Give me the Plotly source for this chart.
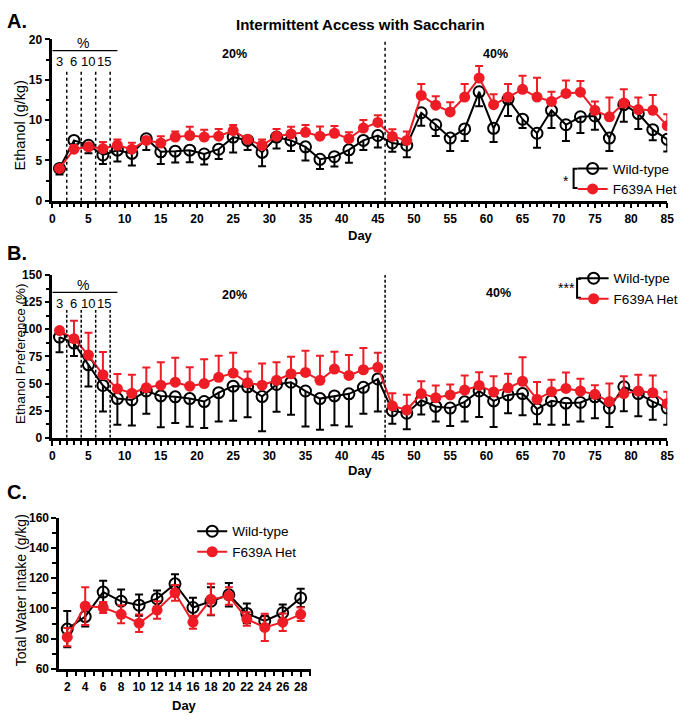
import plotly.graph_objects as go

# ---------------- data ----------------
days = [1, 3, 5, 7, 9, 11, 13, 15, 17, 19, 21, 23, 25, 27, 29, 31, 33, 35, 37, 39, 41, 43,
        45, 47, 49, 51, 53, 55, 57, 59, 61, 63, 65, 67, 69, 71, 73, 75, 77, 79, 81, 83, 85]

wt_eth = [4.0, 7.47, 6.87, 5.66, 6.26, 5.86, 7.68, 6.06, 6.14, 6.26, 5.78, 6.38, 7.88, 7.47,
          5.98, 7.88, 7.47, 6.67, 5.13, 5.45, 6.3, 7.47, 8.08, 7.15, 6.87, 10.9, 9.41, 7.76,
          8.89, 13.5, 8.97, 12.6, 10.1, 8.36, 11.2, 9.41, 10.4, 10.5, 7.76, 11.9, 10.8, 8.8, 7.6]
wt_eth_err = [0.75, 0.5, 1.0, 1.1, 1.4, 1.5, 1.4, 1.5, 1.4, 1.5, 1.3, 1.2, 1.9, 1.2, 1.7, 1.4,
              1.3, 1.7, 1.2, 1.2, 1.6, 1.2, 1.5, 1.1, 1.5, 1.6, 1.4, 1.6, 1.5, 1.8, 1.7, 2.1,
              1.1, 1.8, 2.2, 2.0, 2.0, 1.7, 1.6, 2.1, 1.9, 1.3, 1.5]
het_eth = [4.0, 6.38, 6.67, 6.46, 6.87, 6.38, 7.47, 7.15, 7.88, 8.08, 7.88, 8.0, 8.69, 7.6,
           6.87, 8.0, 8.28, 8.48, 8.0, 8.36, 7.68, 9.0, 9.7, 7.96, 7.47, 13.05, 11.84, 11.0,
           12.85, 15.2, 11.9, 12.85, 13.8, 12.85, 12.3, 13.3, 13.45, 11.2, 10.4, 12.1, 11.3,
           11.2, 9.3]
het_eth_err = [0.3, 0.5, 0.4, 0.8, 0.7, 0.8, 0.4, 0.85, 0.7, 1.1, 0.9, 0.9, 0.7, 0.3, 0.7,
               0.9, 0.9, 0.9, 1.2, 0.9, 0.8, 1.0, 0.9, 0.9, 1.1, 1.4, 1.1, 1.2, 1.6, 1.5, 1.3,
               1.6, 1.7, 2.4, 1.2, 1.6, 1.4, 1.1, 2.4, 1.7, 1.5, 1.9, 1.4]

wt_pref = [92.8, 87.3, 67.2, 48.2, 36.1, 34.9, 43.1, 38.6, 37.7, 36.1, 33.4, 41.6, 47.6, 47.0,
           38.0, 49.1, 51.2, 43.1, 36.1, 38.6, 40.5, 46.5, 54.2, 25.0, 22.6, 34.6, 28.9, 27.4,
           33.1, 43.1, 34.0, 39.5, 40.7, 26.5, 34.0, 31.9, 32.5, 37.7, 27.4, 47.0, 40.7, 33.4,
           27.4]
wt_pref_err = [14, 12, 20, 24, 24, 23.5, 21, 29, 24, 26, 24.5, 26.6, 32, 28, 32, 25, 30, 32.6,
               28.6, 27, 30, 24.4, 30, 12, 14.8, 13.2, 14, 16.6, 18, 24, 24, 17, 20, 14, 22,
               20, 17.5, 19.6, 17.5, 22.6, 20.8, 16.8, 15.4]
het_pref = [98.8, 91.3, 76.2, 58.1, 45.2, 41.0, 46.1, 48.5, 51.2, 47.6, 50.0, 55.7, 59.6, 50.6,
            48.5, 53.0, 59.0, 60.2, 53.0, 63.3, 57.5, 62.7, 65.0, 29.5, 25.6, 40.7, 37.0, 39.5,
            44.0, 48.2, 42.2, 46.0, 52.1, 35.5, 42.5, 45.5, 43.1, 40.0, 33.4, 40.7, 43.1, 41.6,
            31.6]
het_pref_err = [1, 16.5, 20.5, 21, 13.5, 17, 18.7, 21, 22.6, 17.5, 22.3, 20, 18.7, 10.5, 20,
                16.6, 15.7, 20, 22.6, 16, 18.7, 20, 13.3, 11.5, 14, 11.4, 11.2, 9.6, 13.5,
                12.3, 14.4, 13, 22, 16, 11, 14.7, 11.4, 8.5, 16.6, 16, 15, 15.9, 10.9]

water_days = [2, 4, 6, 8, 10, 12, 14, 16, 18, 20, 22, 24, 26, 28]
wt_water = [86.3, 94.6, 110.8, 104.7, 102.1, 106.4, 116.2, 100.6, 104.7, 109.0, 96.7, 91.7,
            97.1, 106.9]
wt_water_err = [12, 6.6, 7.5, 7.8, 7, 5.4, 6.4, 6.4, 9.2, 7.8, 6.5, 3.5, 5.4, 6]
het_water = [81.0, 101.5, 100.6, 96.1, 90.2, 98.9, 110.3, 90.9, 106.0, 108.2, 93.0, 87.4,
             90.9, 96.1]
het_water_err = [6, 12.5, 3.7, 6, 5.8, 5.8, 5.2, 4.3, 10.2, 5.8, 4.4, 9, 5.8, 4.5]

conc_labels = ["3", "6", "10", "15"]
conc_pos = [1, 3, 5, 7.2]
conc_bounds = [2, 4, 6, 8]
phase_switch = 46

# ---------------- style ----------------
W, H = 691, 722
BLACK = "#000000"
RED = "#ee1c24"
FONT = "Liberation Sans, Arial, sans-serif"


def px(x):
    return x / W


def py(y):
    return 1 - y / H


def one_sided(xs, ys, errs, sign, half=0.55):
    """Build one-sided error bar segments (with cap) from data arrays."""
    ex, ey = [], []
    for x, y, e in zip(xs, ys, errs):
        end = y + sign * e
        ex += [x, x, None, x - half, x + half, None]
        ey += [y, end, None, end, end, None]
    return ex, ey


fig = go.Figure()

panels = [
    ("x", "y", wt_eth, wt_eth_err, het_eth, het_eth_err, "legend"),
    ("x2", "y2", wt_pref, wt_pref_err, het_pref, het_pref_err, "legend2"),
]
for xa, ya, wt, wte, het, hete, leg in panels:
    ex, ey = one_sided(days, wt, wte, -1)
    fig.add_trace(go.Scatter(x=ex, y=ey, mode="lines", xaxis=xa, yaxis=ya,
                             line=dict(color=BLACK, width=2), showlegend=False,
                             hoverinfo="skip"))
    fig.add_trace(go.Scatter(x=days, y=wt, mode="lines+markers", xaxis=xa, yaxis=ya,
                             name="Wild-type", legend=leg,
                             line=dict(color=BLACK, width=2),
                             marker=dict(symbol="circle-open", size=11,
                                         line=dict(color=BLACK, width=2), color=BLACK)))
    ex, ey = one_sided(days, het, hete, 1)
    fig.add_trace(go.Scatter(x=ex, y=ey, mode="lines", xaxis=xa, yaxis=ya,
                             line=dict(color=RED, width=2), showlegend=False,
                             hoverinfo="skip"))
    fig.add_trace(go.Scatter(x=days, y=het, mode="lines+markers", xaxis=xa, yaxis=ya,
                             name="F639A Het", legend=leg,
                             line=dict(color=RED, width=2),
                             marker=dict(symbol="circle", size=11, color=RED)))

# Panel C
fig.add_trace(go.Scatter(x=water_days, y=wt_water, mode="lines+markers", xaxis="x3", yaxis="y3",
                         name="Wild-type", legend="legend3",
                         line=dict(color=BLACK, width=2),
                         marker=dict(symbol="circle-open", size=11,
                                     line=dict(color=BLACK, width=2), color=BLACK),
                         error_y=dict(type="data", array=wt_water_err, color=BLACK,
                                      thickness=2, width=4)))
fig.add_trace(go.Scatter(x=water_days, y=het_water, mode="lines+markers", xaxis="x3", yaxis="y3",
                         name="F639A Het", legend="legend3",
                         line=dict(color=RED, width=2),
                         marker=dict(symbol="circle", size=11, color=RED),
                         error_y=dict(type="data", array=het_water_err, color=RED,
                                      thickness=2, width=4)))

tickfont = dict(family=FONT, size=12, color=BLACK, weight="bold")
axis_common = dict(showline=True, linewidth=2.5, linecolor=BLACK, ticks="outside",
                   ticklen=5, tickwidth=2, tickcolor=BLACK, showgrid=False, zeroline=False,
                   tickfont=tickfont, fixedrange=True)
minor_common = dict(ticklen=4, tickwidth=1.5, tickcolor=BLACK, ticks="outside")

fig.update_layout(
    width=W, height=H, autosize=False,
    margin=dict(l=0, r=0, t=0, b=0),
    paper_bgcolor="white", plot_bgcolor="rgba(0,0,0,0)",
    font=dict(family=FONT, color=BLACK),
    xaxis=dict(domain=[px(50), px(674)], range=[0, 85], anchor="y", dtick=5, tick0=0,
               minor=dict(dtick=1, **minor_common), **axis_common),
    yaxis=dict(domain=[py(197.5), py(33)], range=[0, 20], anchor="x", dtick=5, tick0=0,
               minor=dict(dtick=2.5, **minor_common), ticklabelstandoff=0, **axis_common),
    xaxis2=dict(domain=[px(50), px(674)], range=[0, 85], anchor="y2", dtick=5, tick0=0,
                minor=dict(dtick=1, **minor_common), **axis_common),
    yaxis2=dict(domain=[py(439.3), py(273.3)], range=[0, 150], anchor="x2", dtick=25, tick0=0,
                minor=dict(dtick=12.5, **minor_common), ticklabelstandoff=0, **axis_common),
    xaxis3=dict(domain=[px(57), px(313)], range=[1.1, 29.2], anchor="y3", dtick=2, tick0=2,
                minor=dict(dtick=1, **minor_common), **axis_common),
    yaxis3=dict(domain=[py(675), py(520.7)], range=[60, 160], anchor="x3", dtick=20, tick0=60,
                minor=dict(dtick=10, **minor_common), ticklabelstandoff=0, **axis_common),
)

legfont = dict(family=FONT, size=13.5, color=BLACK)
fig.update_layout(
    legend=dict(x=px(578), y=py(149), xanchor="left", yanchor="top", font=legfont,
                bgcolor="rgba(0,0,0,0)", tracegroupgap=0),
    legend2=dict(x=px(579), y=py(261), xanchor="left", yanchor="top", font=legfont,
                 bgcolor="rgba(0,0,0,0)", tracegroupgap=0),
    legend3=dict(x=px(192), y=py(519), xanchor="left", yanchor="top", font=legfont,
                 bgcolor="rgba(0,0,0,0)", tracegroupgap=0),
)

shapes = []
# Panel A guide lines
for b in conc_bounds:
    shapes.append(dict(type="line", xref="x", yref="y", x0=b, x1=b, y0=0, y1=16.3,
                       line=dict(color=BLACK, width=1.5, dash="dot")))
shapes.append(dict(type="line", xref="x", yref="y", x0=phase_switch, x1=phase_switch, y0=0, y1=20,
                   line=dict(color=BLACK, width=1.5, dash="dot")))
shapes.append(dict(type="line", xref="x", yref="y", x0=0, x1=9, y0=18.6, y1=18.6,
                   line=dict(color=BLACK, width=1.2)))
# Panel B guide lines
for b in conc_bounds:
    shapes.append(dict(type="line", xref="x2", yref="y2", x0=b, x1=b, y0=0, y1=117.7,
                       line=dict(color=BLACK, width=1.5, dash="3px,2px")))
shapes.append(dict(type="line", xref="x2", yref="y2", x0=phase_switch, x1=phase_switch, y0=0, y1=151,
                   line=dict(color=BLACK, width=1.5, dash="3px,2px")))
shapes.append(dict(type="line", xref="x2", yref="y2", x0=0, x1=9, y0=134, y1=134,
                   line=dict(color=BLACK, width=1.2)))
# significance brackets
for xb, y0b, y1b in [(579, 165, 184.5), (582.5, 277, 296.5)]:
    shapes.append(dict(type="path", xref="paper", yref="paper",
                       path=f"M {px(xb + 4)} {py(y0b)} L {px(xb)} {py(y0b)} L {px(xb)} {py(y1b)} L {px(xb + 4)} {py(y1b)}",
                       line=dict(color=BLACK, width=2)))
fig.update_layout(shapes=shapes)

ann = []


def text(x, y, s, size=12, bold=False, xref="paper", yref="paper", angle=0, xanchor="center"):
    ann.append(dict(x=x, y=y, xref=xref, yref=yref, text=s, showarrow=False, textangle=angle,
                    xanchor=xanchor, yanchor="middle",
                    font=dict(family=FONT, size=size, color=BLACK,
                              weight="bold" if bold else "normal")))


# panel letters
text(px(2), py(14), "A.", size=20, bold=True, xanchor="left")
text(px(2), py(251), "B.", size=20, bold=True, xanchor="left")
text(px(2), py(495), "C.", size=20, bold=True, xanchor="left")
# title
text(px(363), py(18), "Intermittent Access with Saccharin", size=15, bold=True)
# y titles
text(px(17), py(121), "Ethanol (g/kg)", size=14.5, angle=-90)
text(px(17), py(354), "Ethanol Preference (%)", size=13.5, angle=-90)
text(px(19), py(595), "Total Water Intake (g/kg)", size=14, angle=-90)
# x titles
text(px(363), py(233), "Day", size=13, bold=True)
text(px(363), py(473), "Day", size=13, bold=True)
text(px(184), py(712), "Day", size=13, bold=True)
# phase labels
text(25.2, 18.2, "20%", size=12.5, bold=True, xref="x", yref="y")
text(61.3, 18.2, "40%", size=12.5, bold=True, xref="x", yref="y")
text(25.2, 132, "20%", size=12.5, bold=True, xref="x2", yref="y2")
text(61.7, 133, "40%", size=12.5, bold=True, xref="x2", yref="y2")
text(4.2, 19.6, "%", size=14, xref="x", yref="y")
text(4.2, 141, "%", size=14, xref="x2", yref="y2")
for lab, pos in zip(conc_labels, conc_pos):
    text(pos, 17.3, lab, size=13, xref="x", yref="y")
    text(pos, 124, lab, size=13, xref="x2", yref="y2")
# significance stars
text(px(571.5), py(177), "*", size=14)
text(px(571.5), py(287), "***", size=14)
fig.update_layout(annotations=ann)

page_css = ("document.documentElement.style.margin='0';"
            "document.documentElement.style.overflow='hidden';"
            "document.body.style.margin='0';"
            "document.body.style.overflow='hidden';")
fig.write_html("out.html", config={"displayModeBar": False}, post_script=page_css)
